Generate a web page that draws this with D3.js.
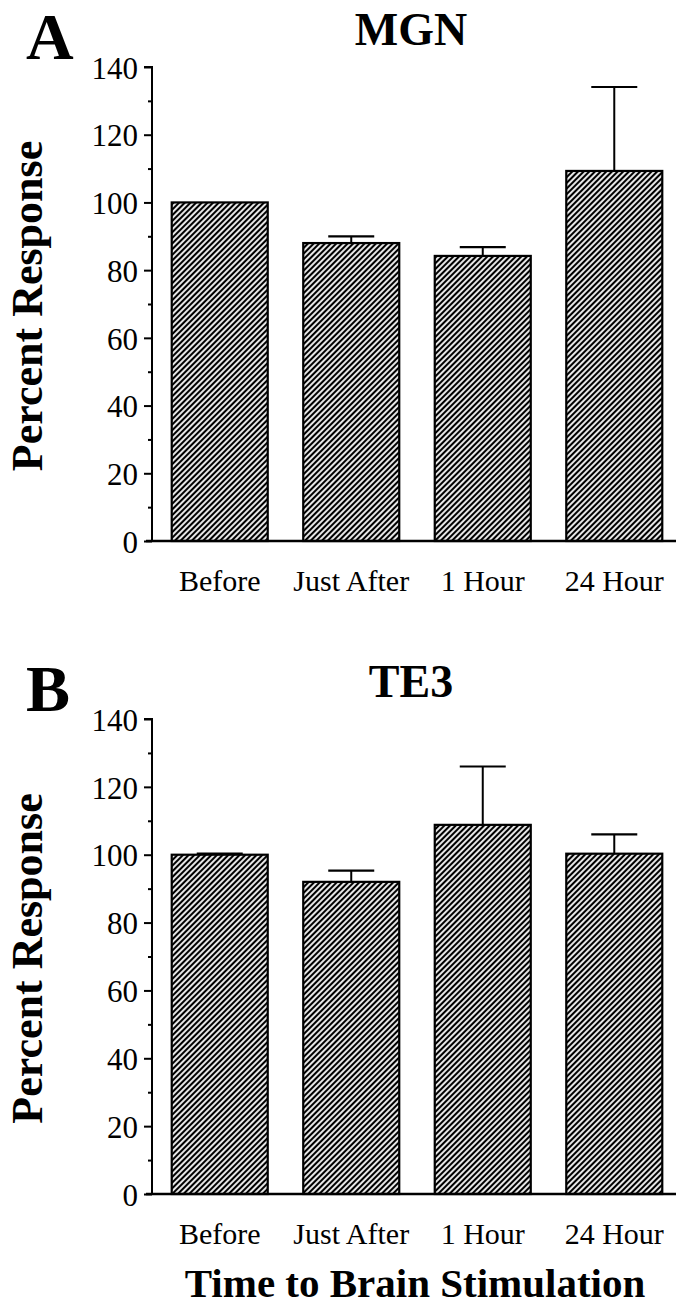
<!DOCTYPE html>
<html>
<head>
<meta charset="utf-8">
<script src="https://cdn.jsdelivr.net/npm/d3@7"></script>
<style>
  body { margin: 0; background: #fff; }
</style>
</head>
<body>
<svg id="mainsvg" width="676" height="1307"></svg>
<script>
// data
var categories = ["Before", "Just After", "1 Hour", "24 Hour"];
var mgnMeans  = [100, 88, 84.2, 109.3];
var mgnErrors = [0, 2, 2.6, 24.8];
var te3Means  = [100, 92, 108.8, 100.3];
var te3Errors = [0.3, 3.3, 17.2, 5.7];
var yTicks = [0, 20, 40, 60, 80, 100, 120, 140];
var yMinorTicks = [10, 30, 50, 70, 90, 110, 130];

var SERIF = "'Liberation Serif', 'Times New Roman', Times, 'DejaVu Serif', serif";

var svg = d3.select("#mainsvg");

// diagonal hatch used in every bar
var defs = svg.append("defs");
var pat = defs.append("pattern")
    .attr("id", "hatch")
    .attr("patternUnits", "userSpaceOnUse")
    .attr("width", 4)
    .attr("height", 4)
    .attr("patternTransform", "rotate(45)");
pat.append("rect").attr("width", 4).attr("height", 4).attr("fill", "#fff");
pat.append("rect")
    .attr("x", 0.9).attr("y", 0).attr("width", 2.2).attr("height", 4)
    .attr("fill", "#000");

var x = d3.scaleBand()
    .domain(categories)
    .range([152, 682])
    .paddingInner(0.27)
    .paddingOuter(0.15);

function label(sel, size, bold){
    return sel.attr("font-family", SERIF)
        .style("font-family", SERIF)
        .style("font-size", size + "px")
        .style("font-weight", bold ? "bold" : "normal")
        .attr("fill", "#000");
}

function drawPanel(opts){
    var y = d3.scaleLinear().domain([0, 140]).range([opts.bottom, opts.top]);
    var g = svg.append("g");

    // panel letter and title
    label(g.append("text"), 66, true)
        .attr("x", 26).attr("y", opts.top - 8)
        .text(opts.letter);
    label(g.append("text"), 46, true)
        .attr("x", 411).attr("y", opts.top - 22)
        .attr("text-anchor", "middle")
        .text(opts.title);

    // y axis title
    label(g.append("text"), 44, true)
        .attr("transform", "translate(42," + ((opts.top + opts.bottom) / 2 + 2) + ") rotate(-90)")
        .attr("text-anchor", "middle")
        .text("Percent Response");

    var data = categories.map(function(c, i){
        return {cat: c, mean: opts.means[i], err: opts.errors[i]};
    });

    // error bars, upper half only
    var err = g.selectAll(".err").data(data.filter(function(d){ return d.err > 0; }))
        .enter().append("g");
    err.append("line")
        .attr("x1", function(d){ return x(d.cat) + x.bandwidth() / 2; })
        .attr("x2", function(d){ return x(d.cat) + x.bandwidth() / 2; })
        .attr("y1", function(d){ return y(d.mean); })
        .attr("y2", function(d){ return y(d.mean + d.err); })
        .attr("stroke", "#000").attr("stroke-width", 2);
    err.append("line")
        .attr("x1", function(d){ return x(d.cat) + x.bandwidth() / 2 - 23; })
        .attr("x2", function(d){ return x(d.cat) + x.bandwidth() / 2 + 23; })
        .attr("y1", function(d){ return y(d.mean + d.err); })
        .attr("y2", function(d){ return y(d.mean + d.err); })
        .attr("stroke", "#000").attr("stroke-width", 2.2);

    // bars
    g.selectAll(".bar").data(data)
        .enter().append("rect")
        .attr("x", function(d){ return x(d.cat); })
        .attr("y", function(d){ return y(d.mean); })
        .attr("width", x.bandwidth())
        .attr("height", function(d){ return y(0) - y(d.mean); })
        .attr("fill", "url(#hatch)")
        .attr("stroke", "#000")
        .attr("stroke-width", 2.2);

    // y axis with major and minor ticks
    var axis = g.append("g").attr("transform", "translate(152,0)");
    axis.call(d3.axisLeft(y).tickValues(yTicks).tickSize(8).tickPadding(6).tickFormat(d3.format("d")));
    axis.append("g").call(d3.axisLeft(y).tickValues(yMinorTicks).tickSize(4).tickFormat(""))
        .select(".domain").remove();
    axis.selectAll(".domain").attr("stroke-width", 2).attr("d", "M-8," + y(140) + "H0V" + y(0));
    axis.selectAll(".tick line").attr("stroke-width", 2);
    label(axis.selectAll(".tick text"), 31, false)
        .attr("dy", "0.36em");

    // baseline
    g.append("line")
        .attr("x1", 146).attr("x2", 676)
        .attr("y1", y(0)).attr("y2", y(0))
        .attr("stroke", "#000").attr("stroke-width", 2.4);

    // category labels
    label(g.selectAll(".cat").data(categories).enter().append("text"), 30, false)
        .attr("x", function(d){ return x(d) + x.bandwidth() / 2; })
        .attr("y", opts.bottom + 50)
        .attr("text-anchor", "middle")
        .text(function(d){ return d; });
}

drawPanel({letter: "A", title: "MGN", top: 67, bottom: 541, means: mgnMeans, errors: mgnErrors});
drawPanel({letter: "B", title: "TE3", top: 719, bottom: 1194, means: te3Means, errors: te3Errors});

label(svg.append("text"), 41, true)
    .attr("x", 415).attr("y", 1297)
    .attr("text-anchor", "middle")
    .text("Time to Brain Stimulation");
</script>
</body>
</html>
